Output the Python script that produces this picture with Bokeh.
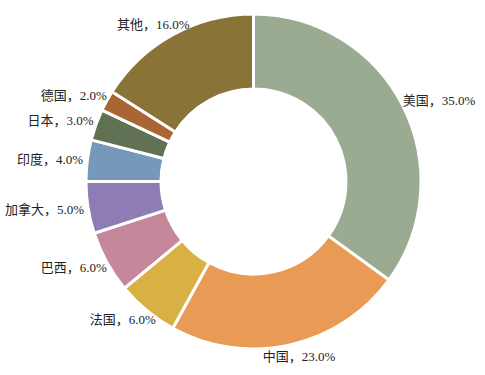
import math
from bokeh.plotting import figure
from bokeh.models import Range1d, ColumnDataSource
from bokeh.core.properties import value
from bokeh.embed import file_html
from bokeh.resources import INLINE

# ---- data ----
countries = ["美国", "中国", "法国", "巴西", "加拿大", "印度", "日本", "德国", "其他"]
shares = [35.0, 23.0, 6.0, 6.0, 5.0, 4.0, 3.0, 2.0, 16.0]
colors = ["#9bab91", "#e99a55", "#d9b044", "#c4879c", "#8e7db5",
          "#7698bb", "#617154", "#a96632", "#8a7337"]

# ---- geometry (pixel-like data units) ----
W, H = 485, 375
cx, cy = 253, 194          # center in data units (y up)
R_out, R_in = 167.5, 92.5
L = 172                    # label anchor radius
hh = 7                     # half text height

total = sum(shares)
start_a, end_a, lx, ly = [], [], [], []
labels = []
cum = 0.0
for name, s in zip(countries, shares):
    t0 = cum / total * 2 * math.pi
    t1 = (cum + s) / total * 2 * math.pi
    cum += s
    start_a.append(math.pi / 2 - t1)
    end_a.append(math.pi / 2 - t0)
    tm = (t0 + t1) / 2
    sn, cs = math.sin(tm), math.cos(tm)
    txt = f"{name}，{s:.1f}%"
    # rough text width estimate
    w = 0
    for ch in txt:
        if ch.isdigit():
            w += 6.5
        elif ch == ".":
            w += 3.2
        elif ch == "%":
            w += 10.8
        else:
            w += 13
    hw = w / 2
    ax = cx + L * sn
    ay = cy + L * cs
    lx.append(ax + hw * sn)
    ly.append(ay + hh * cs)
    labels.append(txt)

src = ColumnDataSource(dict(start=start_a, end=end_a, color=colors))
lsrc = ColumnDataSource(dict(x=lx, y=ly, text=labels))

p = figure(width=W, height=H, output_backend="svg", toolbar_location=None,
           x_range=Range1d(0, W), y_range=Range1d(0, H), min_border=0)
p.axis.visible = False
p.grid.visible = False
p.outline_line_color = None
p.background_fill_color = "white"

p.annular_wedge(x=cx, y=cy, inner_radius=R_in, outer_radius=R_out,
                start_angle="start", end_angle="end", fill_color="color",
                line_color="white", line_width=3, source=src)

p.text(x="x", y="y", text="text", source=lsrc, text_align="center",
       text_baseline="middle", text_font_size="13px", text_color="#222222",
       text_font=value("'Liberation Serif', 'Noto Sans CJK SC'"))

open("out.html", "w").write(file_html(p, INLINE))
